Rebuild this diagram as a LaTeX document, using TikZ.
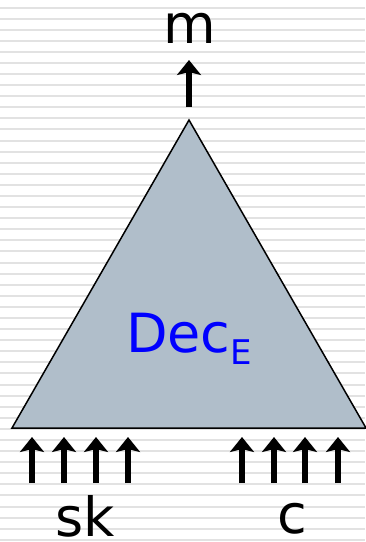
\documentclass[tikz,border=0pt]{standalone}
\usepackage{fontspec}
\setmainfont{DejaVu Sans}
\usepackage{tikz}
\usetikzlibrary{arrows.meta, positioning, calc}
\definecolor{decfill}{RGB}{176, 190, 202}
\definecolor{stripegray}{RGB}{226, 226, 226}
\definecolor{decblue}{RGB}{0, 0, 255}

\tikzset{
    stripe/.style={line width=2pt, stripegray},
    wire/.style={->, line width=5.5pt},
    lbl/.style={font=\fontsize{54}{54}\selectfont, anchor=base, inner sep=0pt}
}

\begin{document}
\begin{tikzpicture}[x=1pt, y=-1pt, >={Stealth[width=24pt, length=15pt, inset=3pt]}]
    \useasboundingbox (0,0) rectangle (365,542);

    % Lined background
    \foreach \k in {0,...,48}
        \draw[stripe] (0,{7.5+11.09*\k}) -- (365,{7.5+11.09*\k});

    % Decryption box
    \coordinate (apex) at (189,120);
    \coordinate (baseL) at (12,428);
    \coordinate (baseR) at (366,428);
    \draw[fill=decfill, line width=1.5pt, line join=miter] (baseL) -- (apex) -- (baseR) -- cycle;
    \node[lbl, text=decblue] (dec) at (189,352)
        {Dec\raisebox{-12pt}{\fontsize{34}{34}\selectfont E}};

    % Output
    \node[lbl] (msg) at (190,43) {m};
    \coordinate (outS) at (189,107);
    \coordinate (outE) at (189,60);
    \draw[wire] (outS) -- (outE);

    % Inputs: secret key and ciphertext
    \node[lbl] (sk) at (85,536) {sk};
    \node[lbl] (ctxt) at (292,533) {c};
    \foreach \x [count=\i] in {32,64,96,128} {
        \coordinate (skS\i) at (\x,483);
        \coordinate (skE\i) at (\x,437);
        \draw[wire] (skS\i) -- (skE\i);
    }
    \foreach \x [count=\i] in {242,274,305,338} {
        \coordinate (cS\i) at (\x,483);
        \coordinate (cE\i) at (\x,437);
        \draw[wire] (cS\i) -- (cE\i);
    }
\end{tikzpicture}
\end{document}
